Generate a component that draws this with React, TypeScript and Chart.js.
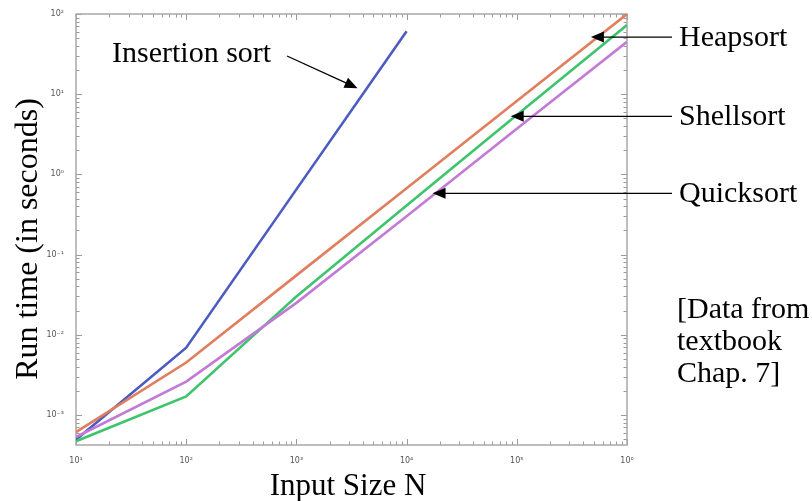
import React, { useEffect, useRef } from "react";
import { Chart, registerables } from "chart.js";

Chart.register(...registerables);

const inputSizes = [10, 100, 1000, 10000, 100000, 1000000];
const insertionSort = [4.9e-4, 6.9e-3, 0.65, 61, null, null];
const heapsort = [6.1e-4, 4.5e-3, 0.055, 0.67, 8.2, 100];
const shellsort = [4.7e-4, 1.7e-3, 0.03, 0.41, 5.5, 73];
const quicksort = [5.3e-4, 2.6e-3, 0.025, 0.3, 3.7, 45];

const seriesNames = ["Insertion sort", "Heapsort", "Shellsort", "Quicksort"];
const seriesColors = ["#4b5bc2", "#e07e5e", "#3fc46c", "#c27ad6"];

const xTickLabels: Record<number, string> = {
  1: "10¹", 2: "10²", 3: "10³", 4: "10⁴", 5: "10⁵", 6: "10⁶",
};
const yTickLabels: Record<number, string> = {
  [-3]: "10⁻³", [-2]: "10⁻²", [-1]: "10⁻¹", 0: "10⁰", 1: "10¹", 2: "10²",
};

const xTitle = "Input Size N";
const yTitle = "Run time (in seconds)";
const noteLines = ["[Data from", "textbook", "Chap. 7]"];

// arrow tips in data coordinates
const insertionTip = { x: 3590, y: 11.9 };
const heapTip = { x: 4.7e5, y: 51.6 };
const shellTip = { x: 8.8e4, y: 5.3 };
const quickTip = { x: 1.72e4, y: 0.58 };

const X_MIN = 10;
const X_MAX = 1e6;
const Y_MIN = Math.pow(10, -3.375);
const Y_MAX = 100;

const SERIF = "'Liberation Serif', 'Times New Roman', serif";

function drawArrow(ctx: CanvasRenderingContext2D, x1: number, y1: number, x2: number, y2: number) {
  const ang = Math.atan2(y2 - y1, x2 - x1);
  const len = 13;
  const hw = 5.5;
  ctx.save();
  ctx.strokeStyle = "#000";
  ctx.fillStyle = "#000";
  ctx.lineWidth = 1.3;
  ctx.beginPath();
  ctx.moveTo(x1, y1);
  ctx.lineTo(x2 - Math.cos(ang) * len * 0.8, y2 - Math.sin(ang) * len * 0.8);
  ctx.stroke();
  ctx.beginPath();
  ctx.moveTo(x2, y2);
  ctx.lineTo(x2 - Math.cos(ang) * len + Math.sin(ang) * hw, y2 - Math.sin(ang) * len - Math.cos(ang) * hw);
  ctx.lineTo(x2 - Math.cos(ang) * len - Math.sin(ang) * hw, y2 - Math.sin(ang) * len + Math.cos(ang) * hw);
  ctx.closePath();
  ctx.fill();
  ctx.restore();
}

const framePlugin = {
  id: "framePlugin",
  beforeDatasetsDraw(chart: any) {
    const { ctx, chartArea: a, scales } = chart;
    const xs = scales.x;
    const ys = scales.y;
    ctx.save();
    ctx.strokeStyle = "#9a9a9a";
    ctx.lineWidth = 1;
    for (let d = 1; d <= 6; d++) {
      for (let m = 1; m <= 9; m++) {
        const v = m * Math.pow(10, d);
        if (v < X_MIN || v > X_MAX) continue;
        const px = Math.round(xs.getPixelForValue(v)) + 0.5;
        const L = m === 1 ? 6 : 3.5;
        ctx.beginPath();
        ctx.moveTo(px, a.bottom);
        ctx.lineTo(px, a.bottom - L);
        ctx.moveTo(px, a.top);
        ctx.lineTo(px, a.top + L);
        ctx.stroke();
      }
    }
    for (let d = -4; d <= 2; d++) {
      for (let m = 1; m <= 9; m++) {
        const v = m * Math.pow(10, d);
        if (v < Y_MIN || v > Y_MAX) continue;
        const py = Math.round(ys.getPixelForValue(v)) + 0.5;
        const L = m === 1 ? 6 : 3.5;
        ctx.beginPath();
        ctx.moveTo(a.left, py);
        ctx.lineTo(a.left + L, py);
        ctx.moveTo(a.right, py);
        ctx.lineTo(a.right - L, py);
        ctx.stroke();
      }
    }
    ctx.strokeStyle = "#a8a8a8";
    ctx.lineWidth = 1.5;
    ctx.strokeRect(a.left, a.top, a.right - a.left, a.bottom - a.top);
    ctx.restore();
  },
  afterDraw(chart: any) {
    const { ctx, scales } = chart;
    const xs = scales.x;
    const ys = scales.y;
    const P = (p: { x: number; y: number }) => ({ x: xs.getPixelForValue(p.x), y: ys.getPixelForValue(p.y) });
    ctx.save();
    ctx.fillStyle = "#000";
    ctx.textBaseline = "alphabetic";

    // axis titles
    ctx.textAlign = "center";
    ctx.font = `31px ${SERIF}`;
    ctx.fillText(xTitle, 348, 495);
    ctx.save();
    ctx.translate(37, 239);
    ctx.rotate(-Math.PI / 2);
    ctx.font = `32px ${SERIF}`;
    ctx.fillText(yTitle, 0, 0);
    ctx.restore();

    // insertion sort annotation
    ctx.font = `30px ${SERIF}`;
    ctx.textAlign = "left";
    const it = P(insertionTip);
    ctx.fillText(seriesNames[0], 112, 62);
    drawArrow(ctx, 287, 56, it.x, it.y);

    // right side labels
    const right = [
      { name: seriesNames[1], tip: P(heapTip) },
      { name: seriesNames[2], tip: P(shellTip) },
      { name: seriesNames[3], tip: P(quickTip) },
    ];
    for (const r of right) {
      drawArrow(ctx, 672, r.tip.y, r.tip.x, r.tip.y);
      ctx.fillText(r.name, 679, r.tip.y + 9);
    }

    noteLines.forEach((t, i) => ctx.fillText(t, 677, 318 + i * 32));
    ctx.restore();
  },
};

export default function App() {
  const ref = useRef<HTMLCanvasElement | null>(null);
  useEffect(() => {
    if (!ref.current) return;
    const mk = (vals: (number | null)[]) =>
      inputSizes.map((x, i) => ({ x, y: vals[i] })).filter((p) => p.y !== null);
    const chart = new Chart(ref.current, {
      type: "line",
      data: {
        datasets: [
          { label: seriesNames[3], data: mk(quicksort) as any, borderColor: seriesColors[3] },
          { label: seriesNames[2], data: mk(shellsort) as any, borderColor: seriesColors[2] },
          { label: seriesNames[1], data: mk(heapsort) as any, borderColor: seriesColors[1] },
          { label: seriesNames[0], data: mk(insertionSort) as any, borderColor: seriesColors[0] },
        ].map((d) => ({ ...d, borderWidth: 2.6, pointRadius: 0, tension: 0, fill: false })),
      },
      options: {
        animation: false,
        responsive: false,
        maintainAspectRatio: false,
        layout: { padding: { left: 0, right: 185, top: 14, bottom: 0 } },
        plugins: { legend: { display: false }, tooltip: { enabled: false } },
        scales: {
          x: {
            type: "logarithmic",
            min: X_MIN,
            max: X_MAX,
            grid: { display: false },
            border: { display: false },
            ticks: {
              autoSkip: false,
              maxRotation: 0,
              padding: 3,
              color: "#555",
              font: { size: 8, family: "DejaVu Sans" },
              callback: (v: any) => {
                const l = Math.log10(Number(v));
                return Math.abs(l - Math.round(l)) < 1e-9 ? xTickLabels[Math.round(l)] ?? "" : "";
              },
            },
            afterFit: (s: any) => { s.height = 56; },
          },
          y: {
            type: "logarithmic",
            min: Y_MIN,
            max: Y_MAX,
            grid: { display: false },
            border: { display: false },
            ticks: {
              autoSkip: false,
              padding: 4,
              color: "#555",
              font: { size: 8, family: "DejaVu Sans" },
              callback: (v: any) => {
                const l = Math.log10(Number(v));
                return Math.abs(l - Math.round(l)) < 1e-9 ? yTickLabels[Math.round(l)] ?? "" : "";
              },
            },
            afterFit: (s: any) => { s.width = 76; },
          },
        },
      },
      plugins: [framePlugin],
    });
    return () => chart.destroy();
  }, []);
  return (
    <div style={{ position: "fixed", left: 0, top: 0, width: 812, height: 501, background: "#fff" }}>
      <canvas ref={ref} width={812} height={501} style={{ display: "block" }} />
    </div>
  );
}
